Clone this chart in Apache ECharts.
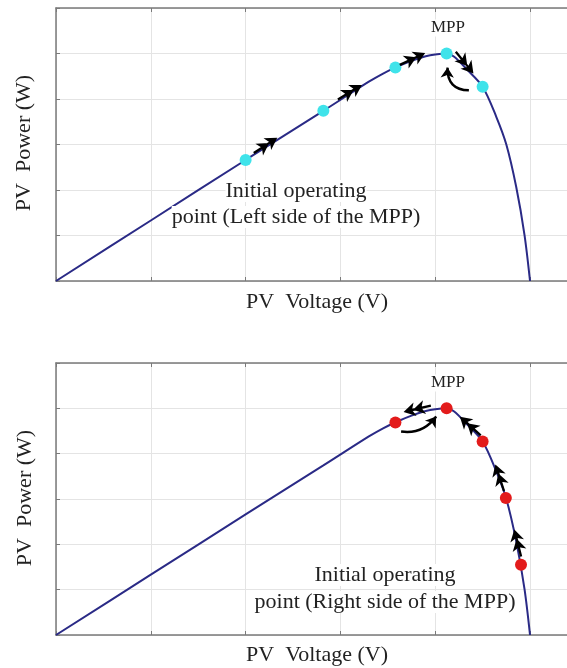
<!DOCTYPE html>
<html><head><meta charset="utf-8">
<script src="https://cdn.jsdelivr.net/npm/echarts@6/dist/echarts.min.js"></script>
<style>html,body{margin:0;padding:0;background:#fff}#c{width:567px;height:668px}</style>
</head><body><div id="c"></div>
<script>
const voltage = [0, 1, 2, 2.82, 3.3, 3.45, 3.6, 3.75, 3.9, 4.0, 4.12, 4.2, 4.33, 4.5, 4.643, 4.75, 4.854, 4.942, 5.0];
const power   = [0, 1.33, 2.66, 3.74, 4.38, 4.56, 4.71, 4.84, 4.94, 4.98, 5.0, 4.93, 4.66, 4.27, 3.615, 3.0, 2.07, 1.01, 0];
// operating points
const leftPoints  = [[2.0, 2.66], [2.82, 3.74], [3.58, 4.69], [4.12, 5.0], [4.5, 4.27]];
const rightPoints = [[3.58, 4.69], [4.12, 5.0], [4.5, 4.27], [4.745, 3.02], [4.905, 1.55]];
// double-chevron arrows: [x, y, rotation deg]
const leftArrows  = [[2.21, 2.98, -57], [3.1, 4.15, -59], [3.76, 4.88, -65], [4.31, 4.8, -141]];
const rightArrows = [[3.81, 4.99, 103], [4.37, 4.61, 48], [4.68, 3.47, 18], [4.87, 2.03, 14]];
// curved return arrows
const leftReturn  = [[4.355, 4.19], [4.13, 4.69]];
const rightReturn = [[3.64, 4.49], [4.01, 4.82]];
const labelsTop = ['MPP', 'Initial operating', 'point (Left side of the MPP)'];
const labelsBottom = ['MPP', 'Initial operating', 'point (Right side of the MPP)'];
const xTitle = 'PV  Voltage (V)';
const yTitle = 'PV  Power (W)';

const chart = echarts.init(document.getElementById('c'));
const FONT = '"Liberation Serif", "DejaVu Serif", serif';
const axisCol = '#7a7a7a';
const chevron = 'path://M6 0 L12 11 L6 8 L0 11 Z M6 9 L12 20 L6 17 L0 20 Z M5 7 L7 7 L7 26 L5 26 Z';

function xAx(g, pos) {
  return {
    type: 'value', gridIndex: g, position: pos, min: 0, max: 5.39, interval: 1,
    axisLine: { show: true, onZero: false, lineStyle: { color: axisCol, width: 1.5 } },
    axisTick: { show: true, inside: true, length: 4, lineStyle: { color: axisCol } },
    axisLabel: { show: false },
    splitLine: { show: pos === 'bottom', lineStyle: { color: '#e4e4e4', width: 1 } }
  };
}
function yAx(g) {
  return {
    type: 'value', gridIndex: g, min: 0, max: 6, interval: 1,
    axisLine: { show: true, onZero: false, lineStyle: { color: axisCol, width: 1.5 } },
    axisTick: { show: true, inside: true, length: 4, lineStyle: { color: axisCol } },
    axisLabel: { show: false },
    splitLine: { show: true, lineStyle: { color: '#e4e4e4', width: 1 } }
  };
}
const curve = voltage.map((v, i) => [v, power[i]]);
function panelSeries(g, pts, ptColor, arrows, ret, curv) {
  return [
    { type: 'line', xAxisIndex: g * 2, yAxisIndex: g, data: curve, smooth: 0.3,
      showSymbol: false, lineStyle: { color: '#2a2a86', width: 2 }, z: 2, silent: true },
    { type: 'scatter', xAxisIndex: g * 2, yAxisIndex: g, data: pts, symbolSize: 12,
      itemStyle: { color: ptColor, opacity: 1 }, z: 4 },
    { type: 'scatter', xAxisIndex: g * 2, yAxisIndex: g,
      data: arrows.map(a => ({ value: [a[0], a[1]], symbolRotate: a[2] })),
      symbol: chevron, symbolSize: [14, 28],
      itemStyle: { color: '#000', opacity: 1 }, z: 5 },
    { type: 'lines', coordinateSystem: 'cartesian2d', xAxisIndex: g * 2, yAxisIndex: g,
      data: [{ coords: ret }], symbol: ['none', 'arrow'], symbolSize: 10,
      lineStyle: { color: '#000', width: 2.5, curveness: curv, opacity: 1 }, z: 5 }
  ];
}
function txt(x, y, s, size, rot, bg) {
  return { type: 'text', x: x, y: y, rotation: rot || 0, z: 10,
    style: { text: s, font: size + 'px ' + FONT, fill: '#222', align: 'center', verticalAlign: 'middle',
      backgroundColor: bg ? '#fff' : 'transparent' } };
}
chart.setOption({
  animation: false,
  grid: [
    { left: 56, top: 8, width: 511, height: 273 },
    { left: 56, top: 363, width: 511, height: 272 }
  ],
  xAxis: [xAx(0, 'bottom'), xAx(0, 'top'), xAx(1, 'bottom'), xAx(1, 'top')],
  yAxis: [yAx(0), yAx(1)],
  series: [
    ...panelSeries(0, leftPoints, '#3fe3ea', leftArrows, leftReturn, 0.5),
    ...panelSeries(1, rightPoints, '#e31b1b', rightArrows, rightReturn, -0.3)
  ],
  graphic: [
    txt(448, 28, labelsTop[0], 17, 0, true),
    txt(296, 191, labelsTop[1], 22, 0, true),
    txt(296, 217, labelsTop[2], 22, 0, true),
    txt(317, 302, xTitle, 22),
    txt(24, 143, yTitle, 22, Math.PI / 2),
    txt(448, 383, labelsBottom[0], 17, 0, true),
    txt(385, 575, labelsBottom[1], 22, 0, true),
    txt(385, 602, labelsBottom[2], 22, 0, true),
    txt(317, 655, xTitle, 22),
    txt(25, 498, yTitle, 22, Math.PI / 2)
  ]
});
</script></body></html>
